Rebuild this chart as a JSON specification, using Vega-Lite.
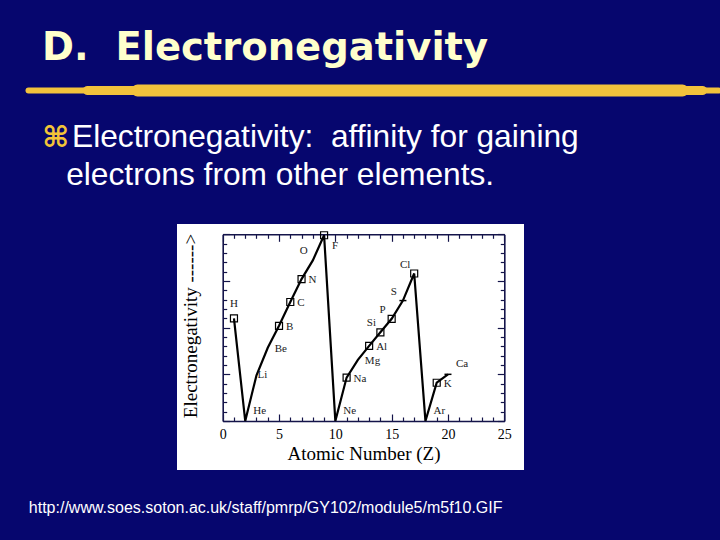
{
  "$schema": "https://vega.github.io/schema/vega-lite/v6.json",
  "width": 347,
  "height": 246,
  "autosize": {"type": "none"},
  "padding": {"left": 177, "top": 224, "right": 196, "bottom": 70},
  "background": "#06066E",
  "title": {
    "text": "D.\u00a0\u00a0Electronegativity",
    "anchor": "start",
    "frame": "group",
    "dx": -135,
    "dy": 34,
    "offset": 17.4,
    "baseline": "bottom",
    "font": "DejaVu Sans",
    "fontSize": 38.5,
    "fontWeight": "bold",
    "color": "#FFFFCC"
  },
  "data": {
    "values": [
      {"Z": 1, "el": "H", "EN": 2.20},
      {"Z": 2, "el": "He", "EN": 0},
      {"Z": 3, "el": "Li", "EN": 0.98},
      {"Z": 4, "el": "Be", "EN": 1.57},
      {"Z": 5, "el": "B", "EN": 2.04},
      {"Z": 6, "el": "C", "EN": 2.55},
      {"Z": 7, "el": "N", "EN": 3.04},
      {"Z": 8, "el": "O", "EN": 3.44},
      {"Z": 9, "el": "F", "EN": 3.98},
      {"Z": 10, "el": "Ne", "EN": 0},
      {"Z": 11, "el": "Na", "EN": 0.93},
      {"Z": 12, "el": "Mg", "EN": 1.31},
      {"Z": 13, "el": "Al", "EN": 1.61},
      {"Z": 14, "el": "Si", "EN": 1.90},
      {"Z": 15, "el": "P", "EN": 2.19},
      {"Z": 16, "el": "S", "EN": 2.58},
      {"Z": 17, "el": "Cl", "EN": 3.16},
      {"Z": 18, "el": "Ar", "EN": 0},
      {"Z": 19, "el": "K", "EN": 0.82},
      {"Z": 20, "el": "Ca", "EN": 1.00}
    ]
  },
  "layer": [
    {
      "layer": [
        {
          "mark": {"type": "line", "color": "black", "strokeWidth": 2.2},
          "encoding": {
            "x": {
              "field": "Z", "type": "quantitative",
              "scale": {"domain": [0, 25], "range": [45.7, 327.3], "nice": false, "zero": false},
              "axis": {
                "orient": "bottom", "offset": -49,
                "values": [0,1,2,3,4,5,6,7,8,9,10,11,12,13,14,15,16,17,18,19,20,21,22,23,24,25],
                "labelExpr": "datum.value % 5 === 0 ? datum.label : ''",
                "labelFont": "Liberation Serif", "labelFontSize": 14, "labelColor": "black",
                "labelPadding": 13.6, "labelFlush": false, "labelOverlap": false,
                "tickSize": {"condition": {"test": "datum.value % 5 === 0", "value": -7}, "value": -4},
                "tickColor": "#14144a", "tickWidth": 1.2,
                "domainColor": "#14144a", "domainWidth": 1.6,
                "grid": false,
                "title": "Atomic Number (Z)",
                "titleFont": "Liberation Serif", "titleFontSize": 19, "titleFontWeight": "normal",
                "titleColor": "black", "titleX": 186.5, "titleY": 38.3,
                "titleAlign": "center", "titleBaseline": "alphabetic", "titleAngle": 0
              }
            },
            "y": {
              "field": "EN", "type": "quantitative",
              "scale": {"domain": [0, 4], "range": [197, 10.3], "nice": false, "zero": false},
              "axis": {
                "orient": "left", "offset": -45.7,
                "values": [0,0.2,0.4,0.6,0.8,1,1.2,1.4,1.6,1.8,2,2.2,2.4,2.6,2.8,3,3.2,3.4,3.6,3.8,4],
                "labels": false,
                "tickSize": {"condition": {"test": "abs(datum.value - round(datum.value)) < 0.01", "value": -7}, "value": -4},
                "tickColor": "#14144a", "tickWidth": 1.2,
                "domainColor": "#14144a", "domainWidth": 1.6,
                "grid": false,
                "title": "Electronegativity ------>",
                "titleFont": "Liberation Serif", "titleFontSize": 19, "titleFontWeight": "normal",
                "titleColor": "black", "titleX": -26.7, "titleY": 101.5,
                "titleAlign": "center", "titleBaseline": "alphabetic", "titleAngle": -90
              }
            }
          }
        },
        {
          "transform": [{"filter": {"field": "el", "oneOf": ["H","B","C","N","F","Na","Al","Si","P","Cl","K"]}}],
          "mark": {"type": "point", "shape": "square", "size": 49, "filled": false, "color": "black", "strokeWidth": 1.2, "opacity": 1},
          "encoding": {
            "x": {
              "field": "Z", "type": "quantitative",
              "scale": {"domain": [0, 25], "range": [45.7, 327.3], "nice": false, "zero": false},
              "axis": {
                "orient": "top", "offset": -10.3,
                "values": [0,1,2,3,4,5,6,7,8,9,10,11,12,13,14,15,16,17,18,19,20,21,22,23,24,25],
                "labels": false,
                "tickSize": {"condition": {"test": "datum.value % 5 === 0", "value": -7}, "value": -4},
                "tickColor": "#14144a", "tickWidth": 1.2,
                "domainColor": "#14144a", "domainWidth": 1.6,
                "grid": false,
                "title": "http://www.soes.soton.ac.uk/staff/pmrp/GY102/module5/m5f10.GIF",
                "titleFont": "Liberation Sans", "titleFontSize": 16, "titleFontWeight": "normal",
                "titleColor": "white", "titleX": -148.7, "titleY": 278,
                "titleAlign": "left", "titleBaseline": "alphabetic", "titleAngle": 0
              }
            },
            "y": {
              "field": "EN", "type": "quantitative",
              "scale": {"domain": [0, 4], "range": [197, 10.3], "nice": false, "zero": false},
              "axis": {
                "orient": "right", "offset": -19.7,
                "values": [0,0.2,0.4,0.6,0.8,1,1.2,1.4,1.6,1.8,2,2.2,2.4,2.6,2.8,3,3.2,3.4,3.6,3.8,4],
                "labels": false,
                "tickSize": {"condition": {"test": "abs(datum.value - round(datum.value)) < 0.01", "value": -7}, "value": -4},
                "tickColor": "#14144a", "tickWidth": 1.2,
                "domainColor": "#14144a", "domainWidth": 1.6,
                "grid": false,
                "title": "⌘",
                "titleFont": "DejaVu Sans", "titleFontSize": 29, "titleFontWeight": "bold",
                "titleColor": "#F2C438", "titleX": -462.5, "titleY": -78,
                "titleAlign": "left", "titleBaseline": "alphabetic", "titleAngle": 0
              }
            }
          }
        },
        {
          "transform": [{"filter": {"field": "el", "oneOf": ["S","Ca"]}}],
          "mark": {"type": "point", "shape": "stroke", "size": 49, "filled": false, "color": "black", "strokeWidth": 1.5, "opacity": 1},
          "encoding": {
            "x": {"field": "Z", "type": "quantitative", "scale": {"domain": [0, 25], "range": [45.7, 327.3], "nice": false, "zero": false}, "axis": null},
            "y": {"field": "EN", "type": "quantitative", "scale": {"domain": [0, 4], "range": [197, 10.3], "nice": false, "zero": false}, "axis": null}
          }
        },
        {
          "transform": [{"filter": {"field": "el", "oneOf": ["B","C","N","Na","Mg","Al","Be","K"]}}],
          "mark": {"type": "text", "align": "left", "baseline": "middle", "dx": 7, "dy": 1, "font": "Liberation Serif", "fontSize": 11, "color": "#1a1a1a"},
          "encoding": {
            "x": {"field": "Z", "type": "quantitative", "scale": {"domain": [0, 25], "range": [45.7, 327.3], "nice": false, "zero": false}, "axis": null},
            "y": {"field": "EN", "type": "quantitative", "scale": {"domain": [0, 4], "range": [197, 10.3], "nice": false, "zero": false}, "axis": null},
            "text": {"field": "el"}
          }
        },
        {
          "transform": [{"filter": {"field": "el", "oneOf": ["O","Si","P","S","Cl"]}}],
          "mark": {"type": "text", "align": "center", "baseline": "middle", "dx": -9, "dy": -9, "font": "Liberation Serif", "fontSize": 11, "color": "#1a1a1a"},
          "encoding": {
            "x": {"field": "Z", "type": "quantitative", "scale": {"domain": [0, 25], "range": [45.7, 327.3], "nice": false, "zero": false}, "axis": null},
            "y": {"field": "EN", "type": "quantitative", "scale": {"domain": [0, 4], "range": [197, 10.3], "nice": false, "zero": false}, "axis": null},
            "text": {"field": "el"}
          }
        },
        {
          "transform": [{"filter": {"field": "el", "oneOf": ["H"]}}],
          "mark": {"type": "text", "align": "center", "baseline": "middle", "dx": 0, "dy": -14, "font": "Liberation Serif", "fontSize": 11, "color": "#1a1a1a"},
          "encoding": {
            "x": {"field": "Z", "type": "quantitative", "scale": {"domain": [0, 25], "range": [45.7, 327.3], "nice": false, "zero": false}, "axis": null},
            "y": {"field": "EN", "type": "quantitative", "scale": {"domain": [0, 4], "range": [197, 10.3], "nice": false, "zero": false}, "axis": null},
            "text": {"field": "el"}
          }
        },
        {
          "transform": [{"filter": {"field": "el", "oneOf": ["He","Ne","Ar","Ca"]}}],
          "mark": {"type": "text", "align": "left", "baseline": "middle", "dx": 8, "dy": -10.5, "font": "Liberation Serif", "fontSize": 11, "color": "#1a1a1a"},
          "encoding": {
            "x": {"field": "Z", "type": "quantitative", "scale": {"domain": [0, 25], "range": [45.7, 327.3], "nice": false, "zero": false}, "axis": null},
            "y": {"field": "EN", "type": "quantitative", "scale": {"domain": [0, 4], "range": [197, 10.3], "nice": false, "zero": false}, "axis": null},
            "text": {"field": "el"}
          }
        },
        {
          "transform": [{"filter": {"field": "el", "oneOf": ["F"]}}],
          "mark": {"type": "text", "align": "left", "baseline": "middle", "dx": 8, "dy": 11, "font": "Liberation Serif", "fontSize": 11, "color": "#1a1a1a"},
          "encoding": {
            "x": {"field": "Z", "type": "quantitative", "scale": {"domain": [0, 25], "range": [45.7, 327.3], "nice": false, "zero": false}, "axis": null},
            "y": {"field": "EN", "type": "quantitative", "scale": {"domain": [0, 4], "range": [197, 10.3], "nice": false, "zero": false}, "axis": null},
            "text": {"field": "el"}
          }
        },
        {
          "transform": [{"filter": {"field": "el", "oneOf": ["Li"]}}],
          "mark": {"type": "text", "align": "center", "baseline": "middle", "dx": 6, "dy": 0, "font": "Liberation Serif", "fontSize": 11, "color": "#1a1a1a"},
          "encoding": {
            "x": {"field": "Z", "type": "quantitative", "scale": {"domain": [0, 25], "range": [45.7, 327.3], "nice": false, "zero": false}, "axis": null},
            "y": {"field": "EN", "type": "quantitative", "scale": {"domain": [0, 4], "range": [197, 10.3], "nice": false, "zero": false}, "axis": null},
            "text": {"field": "el"}
          }
        }
      ],
      "resolve": {"axis": {"x": "independent", "y": "independent"}}
    },
    {
      "mark": {"type": "point", "opacity": 0},
      "encoding": {
        "x": {
          "field": "Z", "type": "quantitative",
          "scale": {"domain": [0, 25], "range": [-149, 541], "nice": false, "zero": false},
          "axis": {
            "orient": "top", "offset": 134,
            "domain": true, "domainColor": "#F2C23C", "domainWidth": 6, "domainCap": "round",
            "ticks": false, "labels": false, "grid": false, "title": null
          }
        },
        "y": {
          "field": "EN", "type": "quantitative",
          "scale": {"domain": [0, 4], "range": [197, 10.3], "nice": false, "zero": false},
          "axis": {
            "orient": "left",
            "domain": false, "ticks": false, "labels": false, "grid": false,
            "title": "Electronegativity:\u00a0 affinity for gaining",
            "titleFont": "Liberation Sans", "titleFontSize": 31.7, "titleFontWeight": "normal",
            "titleColor": "white", "titleX": -105.5, "titleY": -78,
            "titleAlign": "left", "titleBaseline": "alphabetic", "titleAngle": 0
          }
        }
      }
    },
    {
      "mark": {"type": "point", "opacity": 0},
      "encoding": {
        "x": {
          "field": "Z", "type": "quantitative",
          "scale": {"domain": [0, 25], "range": [-90, 525], "nice": false, "zero": false},
          "axis": {
            "orient": "top", "offset": 134,
            "domain": true, "domainColor": "#F2C23C", "domainWidth": 9, "domainCap": "round",
            "ticks": false, "labels": false, "grid": false, "title": null
          }
        },
        "y": {
          "field": "EN", "type": "quantitative",
          "scale": {"domain": [0, 4], "range": [197, 10.3], "nice": false, "zero": false},
          "axis": {
            "orient": "left",
            "domain": false, "ticks": false, "labels": false, "grid": false,
            "title": "electrons from other elements.",
            "titleFont": "Liberation Sans", "titleFontSize": 31.7, "titleFontWeight": "normal",
            "titleColor": "white", "titleX": -111.3, "titleY": -40,
            "titleAlign": "left", "titleBaseline": "alphabetic", "titleAngle": 0
          }
        }
      }
    },
    {
      "mark": {"type": "point", "opacity": 0},
      "encoding": {
        "x": {
          "field": "Z", "type": "quantitative",
          "scale": {"domain": [0, 25], "range": [-40, 505], "nice": false, "zero": false},
          "axis": {
            "orient": "top", "offset": 134,
            "domain": true, "domainColor": "#F2C23C", "domainWidth": 12, "domainCap": "round",
            "ticks": false, "labels": false, "grid": false, "title": null
          }
        },
        "y": {
          "field": "EN", "type": "quantitative",
          "scale": {"domain": [0, 4], "range": [197, 10.3], "nice": false, "zero": false},
          "axis": null
        }
      }
    }
  ],
  "resolve": {"scale": {"x": "independent"}, "axis": {"x": "independent", "y": "independent"}},
  "config": {
    "view": {"fill": "white", "stroke": null},
    "axis": {"grid": false}
  }
}
